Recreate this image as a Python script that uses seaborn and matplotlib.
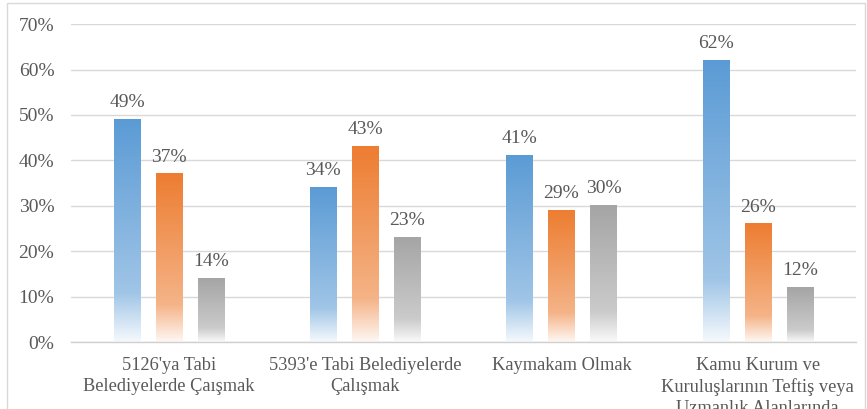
import numpy as np
import pandas as pd
import matplotlib
matplotlib.use("Agg")
import matplotlib.pyplot as plt
import seaborn as sns
from matplotlib.colors import to_rgb
from matplotlib.patches import Rectangle

# chart data
categories = [
    "5126'ya Tabi\nBelediyelerde Çaışmak",
    "5393'e Tabi Belediyelerde\nÇalışmak",
    "Kaymakam Olmak",
    "Kamu Kurum ve\nKuruluşlarının Teftiş veya\nUzmanlık Alanlarında",
]
series = ["Seri 1", "Seri 2", "Seri 3"]
values_s1 = [0.49, 0.34, 0.41, 0.62]
values_s2 = [0.37, 0.43, 0.29, 0.26]
values_s3 = [0.14, 0.23, 0.30, 0.12]
colors = ["#5B9BD5", "#ED7D31", "#A5A5A5"]

df = pd.DataFrame({
    "kategori": categories * 3,
    "seri": [s for s in series for _ in categories],
    "deger": values_s1 + values_s2 + values_s3,
})

sns.set_theme(style="white")
plt.rcParams["font.family"] = ["Liberation Serif", "DejaVu Serif"]
text_color = "#595959"

fig = plt.figure(figsize=(8.67, 4.09), dpi=100)
ax = fig.add_axes([0.0819, 0.1638, 0.9051, 0.7772])

sns.barplot(data=df, x="kategori", y="deger", hue="seri", palette=colors,
            width=0.643, gap=0.38, legend=False, ax=ax)

ax.set_ylim(0, 0.70)
ax.set_yticks(np.arange(0, 0.71, 0.10))
ax.set_yticklabels([f"{int(round(t * 100))}%" for t in np.arange(0, 0.71, 0.10)])
ax.set_xlim(-0.5, len(categories) - 0.5)
ax.grid(axis="y", color="#d9d9d9", linewidth=1)
ax.set_axisbelow(True)
for side in ["left", "right", "top"]:
    ax.spines[side].set_visible(False)
ax.spines["bottom"].set_color("#d0d0d0")
ax.spines["bottom"].set_linewidth(1)
ax.tick_params(axis="both", length=0, colors=text_color, labelsize=14)
ax.tick_params(axis="y", pad=12)
ax.tick_params(axis="x", pad=11, labelsize=13.2)
ax.set_xlabel("")
ax.set_ylabel("")
for lbl in ax.get_xticklabels():
    lbl.set_linespacing(1.28)

# gradient fill inside each bar
def gradient_bar(patch, color):
    x0, y0 = patch.get_x(), patch.get_y()
    w, h = patch.get_width(), patch.get_height()
    base = np.array(to_rgb(color))
    white = np.ones(3)
    pos = np.linspace(0, 1, 200)  # 0 = top, 1 = bottom
    stops = [0.0, 0.78, 1.0]
    mix = [0.0, 0.42, 0.94]
    m = np.interp(pos, stops, mix)
    rgb = base[None, :] * (1 - m[:, None]) + white[None, :] * m[:, None]
    img = rgb[:, None, :]
    ax.imshow(img, extent=[x0, x0 + w, y0, y0 + h], aspect="auto",
              origin="upper", zorder=2, interpolation="bilinear")
    patch.set_facecolor("none")
    patch.set_edgecolor("none")

for container, col in zip(ax.containers, colors):
    for p in container.patches:
        gradient_bar(p, col)
    ax.bar_label(container, labels=[f"{int(round(v.get_height() * 100))}%" for v in container.patches],
                 padding=6, color=text_color, fontsize=14)

ax.set_xlim(-0.5, len(categories) - 0.5)
ax.set_ylim(0, 0.70)

# chart border
fig.patches.append(Rectangle((7 / 867, -0.2), 858 / 867, 1.2 - 3 / 409,
                             transform=fig.transFigure, fill=False,
                             edgecolor="#d9d9d9", linewidth=1))

fig.savefig("out.png", dpi=100)
